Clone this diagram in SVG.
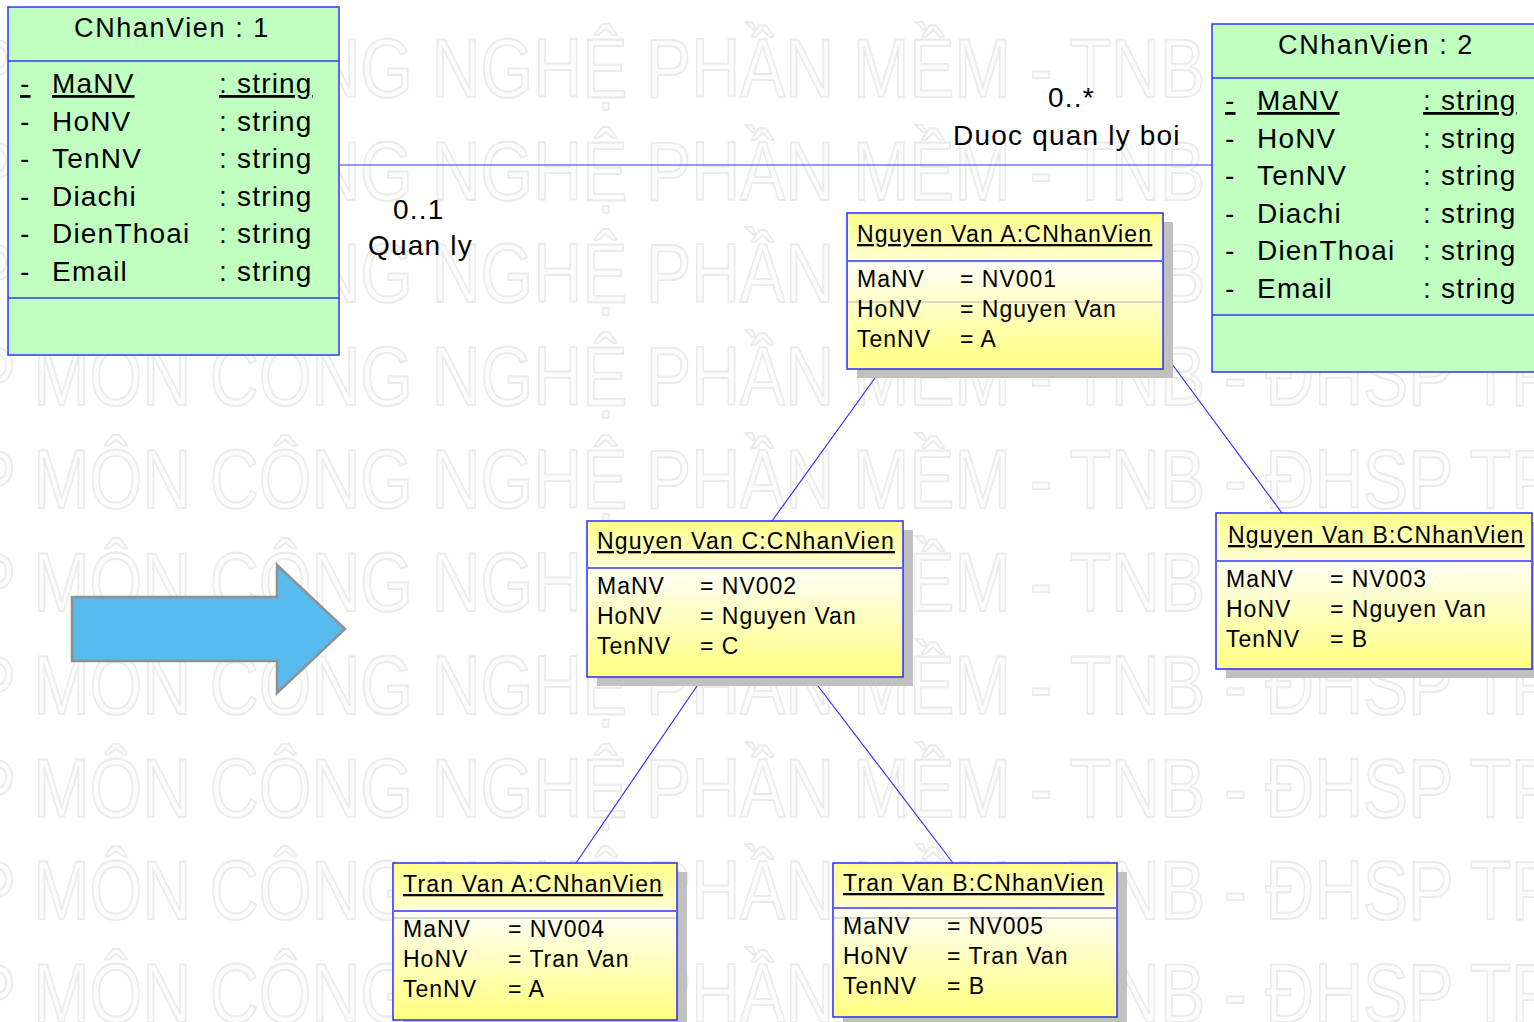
<svg xmlns="http://www.w3.org/2000/svg" width="1534" height="1022" viewBox="0 0 1534 1022">
<defs>
<style>
.wm{font-family:"Liberation Sans",Arial,sans-serif;font-size:84px;fill:#fcfcfc;stroke:#ebebeb;stroke-width:2}
.cls{fill:#c0ffc0;stroke:#3333ff;stroke-width:1.5}
.cdiv{stroke:#3333ff;stroke-width:1.5}
.t{font-family:"Liberation Sans",Arial,sans-serif;fill:#000}
.ct{font-size:27px;letter-spacing:1.6px;text-anchor:middle}
.ca{font-size:28px;letter-spacing:1.2px}
.u{text-decoration:underline}
.ot{font-size:23px;letter-spacing:1.2px;text-decoration:underline}
.oa{font-size:23px;letter-spacing:1px}
.lbl{font-size:28px;letter-spacing:1.2px}
.shadow{fill:#c0c0c0}
.ohead{fill:url(#gh)}
.obody{fill:url(#gb)}
.oborder{fill:none;stroke:#2a2aff;stroke-width:1.5}
.odiv{stroke:#6666ff;stroke-width:2}
.gline{stroke:#b4b4b4;stroke-width:1}
.conn{stroke:#3333ff;stroke-width:1.2;fill:none}
</style>
<linearGradient id="gh" x1="0" y1="0" x2="0" y2="1">
<stop offset="0" stop-color="#ffff88"/>
<stop offset="1" stop-color="#ffffd4"/>
</linearGradient>
<linearGradient id="gb" x1="0" y1="0" x2="0" y2="1">
<stop offset="0" stop-color="#fffff6"/>
<stop offset="1" stop-color="#ffff80"/>
</linearGradient>
</defs>
<rect x="0" y="0" width="1534" height="1022" fill="#ffffff"/>
<g id="watermark">
<text class="wm" transform="scale(0.806,1)" x="-88" y="97">TP MÔN CÔNG NGHỆ PHẦN MỀM - TNB - ĐHSP TP</text>
<text class="wm" transform="scale(0.806,1)" x="-88" y="200">TP MÔN CÔNG NGHỆ PHẦN MỀM - TNB - ĐHSP TP</text>
<text class="wm" transform="scale(0.806,1)" x="-88" y="302">TP MÔN CÔNG NGHỆ PHẦN MỀM - TNB - ĐHSP TP</text>
<text class="wm" transform="scale(0.806,1)" x="-88" y="405">TP MÔN CÔNG NGHỆ PHẦN MỀM - TNB - ĐHSP TP</text>
<text class="wm" transform="scale(0.806,1)" x="-88" y="508">TP MÔN CÔNG NGHỆ PHẦN MỀM - TNB - ĐHSP TP</text>
<text class="wm" transform="scale(0.806,1)" x="-88" y="611">TP MÔN CÔNG NGHỆ PHẦN MỀM - TNB - ĐHSP TP</text>
<text class="wm" transform="scale(0.806,1)" x="-88" y="714">TP MÔN CÔNG NGHỆ PHẦN MỀM - TNB - ĐHSP TP</text>
<text class="wm" transform="scale(0.806,1)" x="-88" y="817">TP MÔN CÔNG NGHỆ PHẦN MỀM - TNB - ĐHSP TP</text>
<text class="wm" transform="scale(0.806,1)" x="-88" y="919">TP MÔN CÔNG NGHỆ PHẦN MỀM - TNB - ĐHSP TP</text>
<text class="wm" transform="scale(0.806,1)" x="-88" y="1022">TP MÔN CÔNG NGHỆ PHẦN MỀM - TNB - ĐHSP TP</text>
</g>
<g id="big-arrow">
<polygon points="72,597 277,597 277,565 345,629 277,693 277,661 72,661" fill="#57bbee" stroke="#909090" stroke-width="2.5"/>
</g>
<g id="connectors">
<line class="conn" x1="340" y1="165" x2="1212" y2="165"/>
<line class="conn" x1="875" y1="378" x2="772" y2="521"/>
<line class="conn" x1="1172" y1="364" x2="1282" y2="513"/>
<line class="conn" x1="697" y1="686" x2="576" y2="863"/>
<line class="conn" x1="818" y1="686" x2="953" y2="863"/>
<text class="t lbl" x="1048" y="107">0..*</text>
<text class="t lbl" x="953" y="145">Duoc quan ly boi</text>
<text class="t lbl" x="393" y="219">0..1</text>
<text class="t lbl" x="368" y="255">Quan ly</text>
</g>
<g id="class-1" transform="translate(8,7)">
<rect class="cls" x="0" y="0" width="331" height="348"/>
<line class="cdiv" x1="0" y1="54" x2="331" y2="54"/>
<line class="cdiv" x1="0" y1="291" x2="331" y2="291"/>
<text class="t ct" x="164" y="30">CNhanVien : 1</text>
<text class="t ca u" x="12" y="86">-</text><text class="t ca u" x="44" y="86">MaNV</text><text class="t ca u" x="211" y="86">: string</text>
<text class="t ca" x="12" y="123.5">-</text><text class="t ca" x="44" y="123.5">HoNV</text><text class="t ca" x="211" y="123.5">: string</text>
<text class="t ca" x="12" y="161">-</text><text class="t ca" x="44" y="161">TenNV</text><text class="t ca" x="211" y="161">: string</text>
<text class="t ca" x="12" y="198.5">-</text><text class="t ca" x="44" y="198.5">Diachi</text><text class="t ca" x="211" y="198.5">: string</text>
<text class="t ca" x="12" y="236">-</text><text class="t ca" x="44" y="236">DienThoai</text><text class="t ca" x="211" y="236">: string</text>
<text class="t ca" x="12" y="273.5">-</text><text class="t ca" x="44" y="273.5">Email</text><text class="t ca" x="211" y="273.5">: string</text>
</g>
<g id="class-2" transform="translate(1212,24)">
<rect class="cls" x="0" y="0" width="332" height="348"/>
<line class="cdiv" x1="0" y1="54" x2="332" y2="54"/>
<line class="cdiv" x1="0" y1="291" x2="332" y2="291"/>
<text class="t ct" x="164" y="30">CNhanVien : 2</text>
<text class="t ca u" x="13" y="86">-</text><text class="t ca u" x="45" y="86">MaNV</text><text class="t ca u" x="211" y="86">: string</text>
<text class="t ca" x="13" y="123.5">-</text><text class="t ca" x="45" y="123.5">HoNV</text><text class="t ca" x="211" y="123.5">: string</text>
<text class="t ca" x="13" y="161">-</text><text class="t ca" x="45" y="161">TenNV</text><text class="t ca" x="211" y="161">: string</text>
<text class="t ca" x="13" y="198.5">-</text><text class="t ca" x="45" y="198.5">Diachi</text><text class="t ca" x="211" y="198.5">: string</text>
<text class="t ca" x="13" y="236">-</text><text class="t ca" x="45" y="236">DienThoai</text><text class="t ca" x="211" y="236">: string</text>
<text class="t ca" x="13" y="273.5">-</text><text class="t ca" x="45" y="273.5">Email</text><text class="t ca" x="211" y="273.5">: string</text>
</g>
<g id="obj-nguyen-van-a" transform="translate(847,213)">
<rect class="shadow" x="10" y="9" width="316" height="156"/>
<rect class="ohead" x="0" y="0" width="316" height="48"/>
<rect class="obody" x="0" y="48" width="316" height="108"/>
<line class="gline" x1="0" y1="89" x2="316" y2="89"/>
<rect class="oborder" x="0" y="0" width="316" height="156"/>
<line class="odiv" x1="0" y1="48" x2="316" y2="48"/>
<text class="t ot" x="10" y="29">Nguyen Van A:CNhanVien</text>
<text class="t oa" x="10" y="74">MaNV</text><text class="t oa" x="113" y="74">= NV001</text>
<text class="t oa" x="10" y="104">HoNV</text><text class="t oa" x="113" y="104">= Nguyen Van</text>
<text class="t oa" x="10" y="134">TenNV</text><text class="t oa" x="113" y="134">= A</text>
</g>
<g id="obj-nguyen-van-c" transform="translate(587,521)">
<rect class="shadow" x="10" y="9" width="316" height="156"/>
<rect class="ohead" x="0" y="0" width="316" height="47"/>
<rect class="obody" x="0" y="47" width="316" height="109"/>
<rect class="oborder" x="0" y="0" width="316" height="156"/>
<line class="odiv" x1="0" y1="47" x2="316" y2="47"/>
<text class="t ot" x="10" y="28">Nguyen Van C:CNhanVien</text>
<text class="t oa" x="10" y="73">MaNV</text><text class="t oa" x="113" y="73">= NV002</text>
<text class="t oa" x="10" y="103">HoNV</text><text class="t oa" x="113" y="103">= Nguyen Van</text>
<text class="t oa" x="10" y="133">TenNV</text><text class="t oa" x="113" y="133">= C</text>
</g>
<g id="obj-nguyen-van-b" transform="translate(1216,513)">
<rect class="shadow" x="10" y="9" width="316" height="156"/>
<rect class="ohead" x="0" y="0" width="316" height="48"/>
<rect class="obody" x="0" y="48" width="316" height="108"/>
<rect class="oborder" x="0" y="0" width="316" height="156"/>
<line class="odiv" x1="0" y1="48" x2="316" y2="48"/>
<text class="t ot" x="12" y="30">Nguyen Van B:CNhanVien</text>
<text class="t oa" x="10" y="74">MaNV</text><text class="t oa" x="114" y="74">= NV003</text>
<text class="t oa" x="10" y="104">HoNV</text><text class="t oa" x="114" y="104">= Nguyen Van</text>
<text class="t oa" x="10" y="134">TenNV</text><text class="t oa" x="114" y="134">= B</text>
</g>
<g id="obj-tran-van-a" transform="translate(393,863)">
<rect class="shadow" x="10" y="9" width="284" height="157"/>
<rect class="ohead" x="0" y="0" width="284" height="48"/>
<rect class="obody" x="0" y="48" width="284" height="109"/>
<line class="gline" x1="0" y1="55" x2="284" y2="55"/>
<rect class="oborder" x="0" y="0" width="284" height="157"/>
<line class="odiv" x1="0" y1="48" x2="284" y2="48"/>
<text class="t ot" x="10" y="29">Tran Van A:CNhanVien</text>
<text class="t oa" x="10" y="74">MaNV</text><text class="t oa" x="115" y="74">= NV004</text>
<text class="t oa" x="10" y="104">HoNV</text><text class="t oa" x="115" y="104">= Tran Van</text>
<text class="t oa" x="10" y="134">TenNV</text><text class="t oa" x="115" y="134">= A</text>
</g>
<g id="obj-tran-van-b" transform="translate(833,863)">
<rect class="shadow" x="10" y="9" width="284" height="154"/>
<rect class="ohead" x="0" y="0" width="284" height="45"/>
<rect class="obody" x="0" y="45" width="284" height="109"/>
<line class="gline" x1="0" y1="55" x2="284" y2="55"/>
<rect class="oborder" x="0" y="0" width="284" height="154"/>
<line class="odiv" x1="0" y1="45" x2="284" y2="45"/>
<text class="t ot" x="10" y="28">Tran Van B:CNhanVien</text>
<text class="t oa" x="10" y="71">MaNV</text><text class="t oa" x="114" y="71">= NV005</text>
<text class="t oa" x="10" y="101">HoNV</text><text class="t oa" x="114" y="101">= Tran Van</text>
<text class="t oa" x="10" y="131">TenNV</text><text class="t oa" x="114" y="131">= B</text>
</g>
</svg>
